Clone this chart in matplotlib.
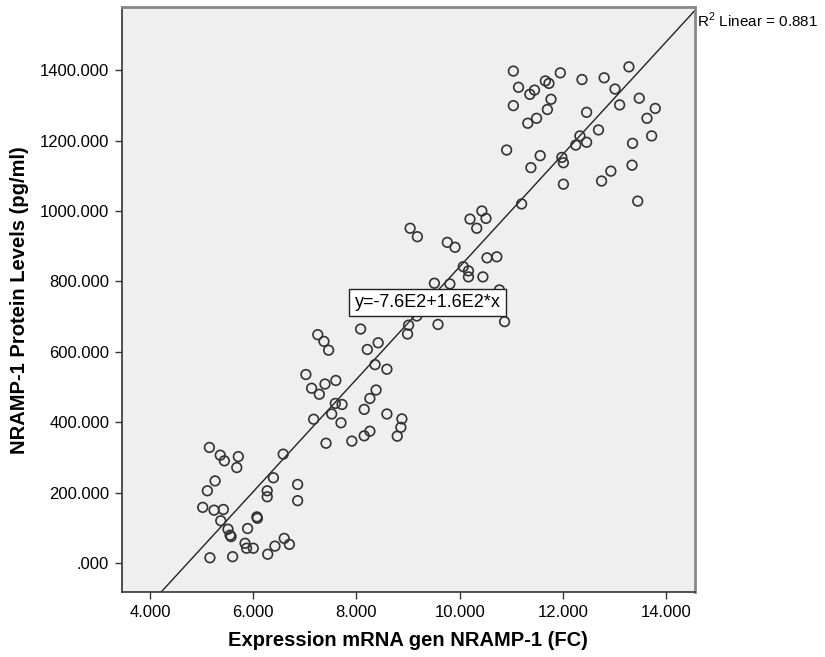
import matplotlib
matplotlib.use("Agg")
import matplotlib.pyplot as plt
import numpy as np
from matplotlib.ticker import FuncFormatter

# mRNA fold change (x) and protein level in pg/ml (y)
mrna = [
    5.15, 5.36, 5.44, 5.71, 5.68, 6.58, 5.26, 5.11, 6.39, 6.27,
    6.27, 6.86, 6.86, 5.02, 5.24, 5.42, 5.37, 6.07, 6.08, 5.51,
    5.55, 5.57, 5.89, 5.84, 5.87, 6.00, 6.60, 6.70, 6.42, 6.28,
    5.16, 5.60,
    7.25, 7.37, 7.46, 8.08, 8.42, 8.21, 9.01, 8.99, 8.36, 8.59,
    7.02, 7.13, 7.39, 7.60, 7.28, 8.38, 8.26, 7.59, 7.72, 7.52,
    7.17, 7.70, 8.15, 8.59, 8.88, 8.86, 8.79, 8.26, 8.15, 7.91,
    7.41,
    9.04, 9.18, 10.43, 10.51, 10.20, 10.33, 9.76, 9.91, 10.53, 10.72,
    10.07, 10.17, 10.17, 10.45, 9.51, 9.81, 10.77, 9.17, 9.58, 10.87,
    11.04, 11.95, 12.37, 11.66, 11.73, 11.14, 11.45, 11.36, 11.77, 11.04,
    11.70, 12.46, 11.49, 11.32, 12.69, 10.91, 11.56, 12.33, 12.25, 12.46,
    11.38, 11.98, 12.01, 12.01, 12.75, 11.20, 13.28, 12.80, 13.01, 13.10,
    13.48, 13.79, 13.63, 13.72, 13.35, 13.34, 12.93, 13.45,
]
protein = [
    329, 307, 291, 303, 272, 310, 234, 206, 243, 206,
    189, 224, 178, 159, 151, 153, 121, 132, 128, 97,
    80, 76, 99, 57, 43, 43, 71, 54, 49, 26,
    16, 19,
    649, 630, 605, 665, 626, 607, 676, 651, 564, 551,
    536, 497, 509, 519, 480, 492, 468, 454, 451, 424,
    409, 399, 437, 424, 410, 386, 361, 375, 362, 347,
    341,
    951, 927, 1000, 979, 977, 951, 911, 897, 867, 870,
    842, 830, 813, 813, 795, 793, 776, 702, 678, 686,
    1397, 1392, 1373, 1369, 1362, 1351, 1343, 1331, 1317, 1299,
    1288, 1280, 1263, 1249, 1230, 1173, 1157, 1213, 1187, 1195,
    1123, 1152, 1137, 1076, 1085, 1020, 1409, 1378, 1346, 1301,
    1320, 1291, 1263, 1213, 1192, 1130, 1113, 1028,
]

x_ticks = [4, 6, 8, 10, 12, 14]
y_ticks = [0, 200, 400, 600, 800, 1000, 1200, 1400]
r2_text = "R$^2$ Linear = 0.881"
eq_text = "y=-7.6E2+1.6E2*x"

plt.rcParams['font.family'] = ['Liberation Sans', 'DejaVu Sans']
plt.rcParams['mathtext.fontset'] = 'custom'
plt.rcParams['mathtext.rm'] = 'Liberation Sans'

x = np.array(mrna)
y = np.array(protein)
slope, intercept = np.polyfit(x, y, 1)

fig = plt.figure(figsize=(8.25, 6.57), dpi=100)
ax = fig.add_axes([0.1475, 0.0985, 0.6949, 0.8904])
ax.set_facecolor('#EFEFEF')

ax.set_xlim(3.45, 14.56)
ax.set_ylim(-82, 1578)

xx = np.array([3.45, 14.56])
ax.plot(xx, intercept + slope * xx, color='#222222', linewidth=1.0, zorder=2)
ax.scatter(x, y, s=48, facecolors='none', edgecolors='#333333', linewidths=1.2, zorder=3)

fmt = FuncFormatter(lambda v, p: ("%.3f" % v).lstrip('0') if abs(v) < 1 else "%.3f" % v)
ax.set_xticks(x_ticks)
ax.set_yticks(y_ticks)
ax.xaxis.set_major_formatter(fmt)
ax.yaxis.set_major_formatter(fmt)
ax.tick_params(direction='out', length=5, width=1, color='#333333', labelsize=12, pad=4)

for side in ['left', 'bottom']:
    ax.spines[side].set_color('#333333')
    ax.spines[side].set_linewidth(1.2)
for side in ['right', 'top']:
    ax.spines[side].set_color('#888888')
    ax.spines[side].set_linewidth(2)

ax.set_xlabel("Expression mRNA gen NRAMP-1 (FC)", fontsize=14.5, fontweight='bold', labelpad=8)
ax.set_ylabel("NRAMP-1 Protein Levels (pg/ml)", fontsize=14.5, fontweight='bold', labelpad=8)

ax.text(0.534, 0.4954, eq_text, transform=ax.transAxes, ha='center', va='center', fontsize=13,
        bbox=dict(boxstyle='square,pad=0.3', facecolor='white', edgecolor='#222222', linewidth=1))
ax.text(1.003, 0.995, r2_text, transform=ax.transAxes, ha='left', va='top', fontsize=11, clip_on=False)

plt.savefig("out.png", dpi=100)
